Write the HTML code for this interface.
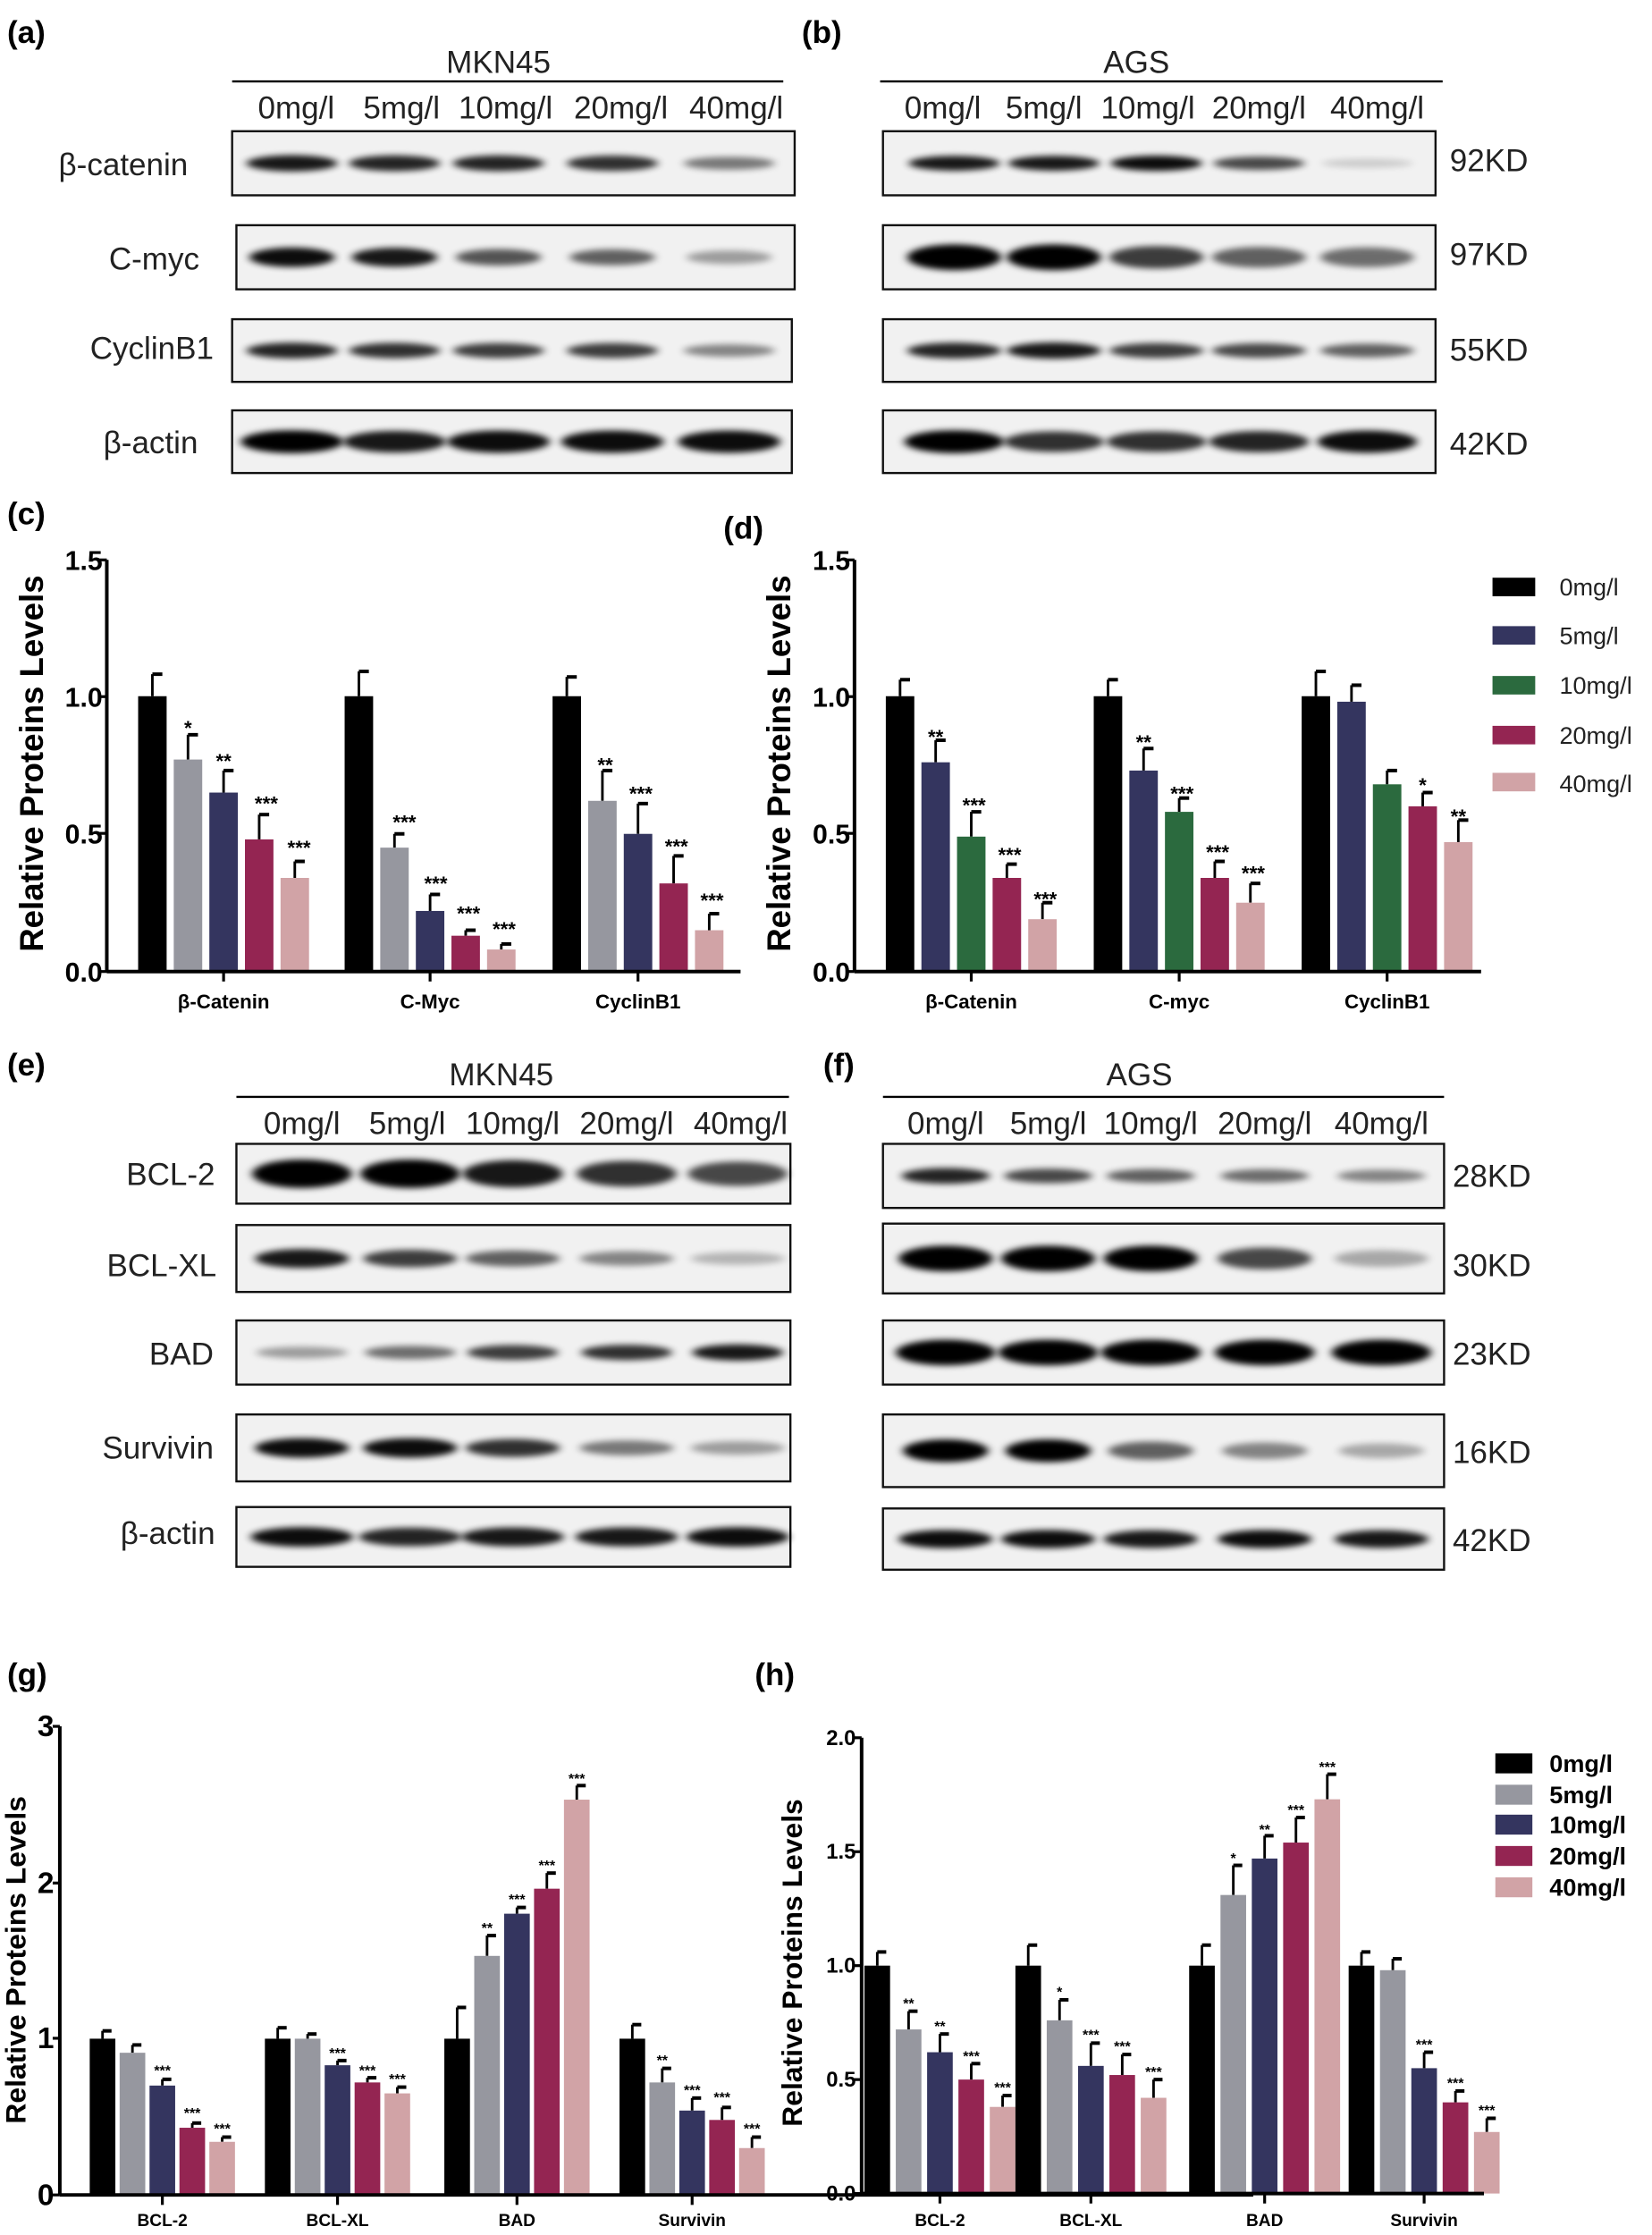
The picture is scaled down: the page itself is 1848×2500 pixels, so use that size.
<!DOCTYPE html>
<html><head><meta charset="utf-8"><style>
html,body{margin:0;padding:0;background:#fff}
svg{display:block}
text{font-family:"Liberation Sans",Arial,sans-serif}
.bl{font-size:22px;fill:#222}
.pl{font-size:22px;font-weight:bold;fill:#000}
.ax{font-size:19px;font-weight:bold}
.yl{font-size:23px;font-weight:bold}
.xl{font-size:14px;font-weight:bold}
.st{font-size:14px;font-weight:bold;text-anchor:middle}
.ss{font-size:10px;font-weight:bold;text-anchor:middle}
</style></head><body>
<svg id="s" width="1848" height="2500" viewBox="0 0 1160 1569" xmlns="http://www.w3.org/2000/svg">
<defs><filter id="bf" x="-20%" y="-100%" width="140%" height="300%"><feGaussianBlur stdDeviation="3 2.2"/></filter></defs>
<g id="blots"></g>
<text class="pl" x="5" y="30">(a)</text><text class="pl" x="563" y="30">(b)</text>
<text class="pl" x="5" y="368">(c)</text><text class="pl" x="508" y="378">(d)</text>
<text class="pl" x="5" y="755">(e)</text><text class="pl" x="578" y="755">(f)</text>
<text class="pl" x="5" y="1183">(g)</text><text class="pl" x="530" y="1183">(h)</text>
<text class="bl" x="350" y="51" text-anchor="middle">MKN45</text>
<line x1="163" y1="57" x2="550" y2="57" stroke="#000" stroke-width="1.5"/>
<g class="bl" text-anchor="middle"><text x="208" y="83">0mg/l</text><text x="282" y="83">5mg/l</text><text x="355" y="83">10mg/l</text><text x="436" y="83">20mg/l</text><text x="517" y="83">40mg/l</text></g>
<g class="bl" text-anchor="end"><text x="132" y="123">β-catenin</text><text x="140" y="189">C-myc</text><text x="150" y="252">CyclinB1</text><text x="139" y="318">β-actin</text></g>
<text class="bl" x="798" y="51" text-anchor="middle">AGS</text>
<line x1="618" y1="57" x2="1013" y2="57" stroke="#000" stroke-width="1.5"/>
<g class="bl" text-anchor="middle"><text x="662" y="83">0mg/l</text><text x="733" y="83">5mg/l</text><text x="806" y="83">10mg/l</text><text x="884" y="83">20mg/l</text><text x="967" y="83">40mg/l</text></g>
<g class="bl"><text x="1018" y="120">92KD</text><text x="1018" y="186">97KD</text><text x="1018" y="253">55KD</text><text x="1018" y="319">42KD</text></g>
<text class="bl" x="352" y="762" text-anchor="middle">MKN45</text>
<line x1="166" y1="770" x2="554" y2="770" stroke="#000" stroke-width="1.5"/>
<g class="bl" text-anchor="middle"><text x="212" y="796">0mg/l</text><text x="286" y="796">5mg/l</text><text x="360" y="796">10mg/l</text><text x="440" y="796">20mg/l</text><text x="520" y="796">40mg/l</text></g>
<g class="bl" text-anchor="end"><text x="151" y="832">BCL-2</text><text x="152" y="896">BCL-XL</text><text x="150" y="958">BAD</text><text x="150" y="1024">Survivin</text><text x="151" y="1084">β-actin</text></g>
<text class="bl" x="800" y="762" text-anchor="middle">AGS</text>
<line x1="620" y1="770" x2="1014" y2="770" stroke="#000" stroke-width="1.5"/>
<g class="bl" text-anchor="middle"><text x="664" y="796">0mg/l</text><text x="736" y="796">5mg/l</text><text x="808" y="796">10mg/l</text><text x="888" y="796">20mg/l</text><text x="970" y="796">40mg/l</text></g>
<g class="bl"><text x="1020" y="833">28KD</text><text x="1020" y="896">30KD</text><text x="1020" y="958">23KD</text><text x="1020" y="1027">16KD</text><text x="1020" y="1089">42KD</text></g>
<g id="charts"></g>
<g class="ax" text-anchor="end"><text x="72" y="400">1.5</text><text x="72" y="496">1.0</text><text x="72" y="592">0.5</text><text x="72" y="689">0.0</text></g>
<text class="yl" transform="translate(30,536) rotate(-90)" text-anchor="middle">Relative Proteins Levels</text>
<g class="xl" text-anchor="middle"><text x="157" y="708">β-Catenin</text><text x="302" y="708">C-Myc</text><text x="448" y="708">CyclinB1</text></g>
<g class="st"><text x="132" y="516">*</text><text x="157" y="539">**</text><text x="187" y="569">***</text><text x="210" y="600">***</text>
<text x="284" y="582">***</text><text x="306" y="625">***</text><text x="329" y="646">***</text><text x="354" y="657">***</text>
<text x="425" y="542">**</text><text x="450" y="562">***</text><text x="475" y="599">***</text><text x="500" y="637">***</text></g>
<g class="ax" text-anchor="end"><text x="597" y="400">1.5</text><text x="597" y="496">1.0</text><text x="597" y="592">0.5</text><text x="597" y="689">0.0</text></g>
<text class="yl" transform="translate(555,536) rotate(-90)" text-anchor="middle">Relative Proteins Levels</text>
<g class="xl" text-anchor="middle"><text x="682" y="708">β-Catenin</text><text x="828" y="708">C-myc</text><text x="974" y="708">CyclinB1</text></g>
<g class="st"><text x="657" y="522">**</text><text x="684" y="570">***</text><text x="709" y="605">***</text><text x="734" y="636">***</text>
<text x="803" y="526">**</text><text x="830" y="562">***</text><text x="855" y="603">***</text><text x="880" y="618">***</text>
<text x="999" y="556">*</text><text x="1024" y="578">**</text></g>
<g font-size="17" fill="#222"><text x="1095" y="418">0mg/l</text><text x="1095" y="452">5mg/l</text><text x="1095" y="487">10mg/l</text><text x="1095" y="522">20mg/l</text><text x="1095" y="556">40mg/l</text></g>
<g class="ax" text-anchor="end" style="font-size:21px"><text x="38" y="1219">3</text><text x="38" y="1329">2</text><text x="38" y="1438">1</text><text x="38" y="1548">0</text></g>
<text class="yl" transform="translate(18,1376) rotate(-90)" text-anchor="middle" style="font-size:20px">Relative Proteins Levels</text>
<g class="xl" text-anchor="middle" style="font-size:12px"><text x="114" y="1563">BCL-2</text><text x="237" y="1563">BCL-XL</text><text x="363" y="1563">BAD</text><text x="486" y="1563">Survivin</text></g>
<g class="ss"><text x="114" y="1457">***</text><text x="135" y="1487">***</text><text x="156" y="1498">***</text>
<text x="237" y="1445">***</text><text x="258" y="1457">***</text><text x="279" y="1463">***</text>
<text x="342" y="1357">**</text><text x="363" y="1337">***</text><text x="384" y="1313">***</text><text x="405" y="1252">***</text>
<text x="465" y="1450">**</text><text x="486" y="1471">***</text><text x="507" y="1476">***</text><text x="528" y="1498">***</text></g>
<g class="ax" text-anchor="end" style="font-size:15px"><text x="601" y="1225">2.0</text><text x="601" y="1305">1.5</text><text x="601" y="1385">1.0</text><text x="601" y="1465">0.5</text><text x="601" y="1545">0.0</text></g>
<text class="yl" transform="translate(563,1378) rotate(-90)" text-anchor="middle" style="font-size:20px">Relative Proteins Levels</text>
<g class="xl" text-anchor="middle" style="font-size:12px"><text x="660" y="1563">BCL-2</text><text x="766" y="1563">BCL-XL</text><text x="888" y="1563">BAD</text><text x="1000" y="1563">Survivin</text></g>
<g class="ss"><text x="638" y="1410">**</text><text x="660" y="1426">**</text><text x="682" y="1447">***</text><text x="704" y="1469">***</text>
<text x="744" y="1402">*</text><text x="766" y="1432">***</text><text x="788" y="1440">***</text><text x="810" y="1458">***</text>
<text x="866" y="1308">*</text><text x="888" y="1288">**</text><text x="910" y="1274">***</text><text x="932" y="1244">***</text>
<text x="1000" y="1439">***</text><text x="1022" y="1466">***</text><text x="1044" y="1485">***</text></g>
<g font-size="17" font-weight="bold"><text x="1088" y="1244">0mg/l</text><text x="1088" y="1266">5mg/l</text><text x="1088" y="1287">10mg/l</text><text x="1088" y="1309">20mg/l</text><text x="1088" y="1331">40mg/l</text></g>
</svg>
<script>
var NS="http://www.w3.org/2000/svg";
function el(p,t,a){var e=document.createElementNS(NS,t);for(var k in a)e.setAttribute(k,a[k]);p.appendChild(e);return e;}
var B=document.getElementById('blots');
function blot(x1,x2,y1,y2,centers,ints,w,h){
 el(B,'rect',{x:x1,y:y1,width:x2-x1,height:y2-y1,fill:'#f1f1f1',stroke:'#111','stroke-width':1.5});
 var cy=(y1+y2)/2;
 for(var i=0;i<centers.length;i++){var v=ints[i];if(v<=0)continue;
  el(B,'ellipse',{cx:centers[i],cy:cy,rx:w/2,ry:h*(0.5+0.5*v)/2,fill:'#000',opacity:Math.min(1,v),filter:'url(#bf)'});}
}
var ca=[205,277,350,430,512], cb=[670,740,812,884,960];
blot(163,558,92,137,ca,[0.9,0.85,0.85,0.8,0.5],64,12);
blot(166,558,158,203,ca,[0.95,0.9,0.65,0.6,0.35],60,14);
blot(163,556,224,268,ca,[0.85,0.8,0.75,0.75,0.45],64,12);
blot(163,556,288,332,ca,[1,0.9,0.95,0.95,0.95],72,16);
blot(620,1008,92,137,cb,[0.9,0.9,0.95,0.7,0.15],64,11);
blot(620,1008,158,203,cb,[1,1,0.75,0.6,0.55],66,18);
blot(620,1008,224,268,cb,[0.85,0.9,0.75,0.7,0.6],66,12);
blot(620,1008,288,332,cb,[1,0.8,0.8,0.85,0.95],70,16);
var ce=[212,288,360,440,518], cf=[664,736,808,888,970];
blot(166,555,803,845,ce,[1,1,0.9,0.8,0.7],70,20);
blot(166,555,860,907,ce,[0.9,0.75,0.6,0.45,0.25],66,14);
blot(166,555,927,972,ce,[0.35,0.55,0.75,0.8,0.9],64,12);
blot(166,555,993,1040,ce,[0.95,0.95,0.8,0.5,0.35],66,14);
blot(166,555,1058,1100,ce,[0.95,0.85,0.9,0.9,0.95],72,14);
blot(620,1014,803,848,cf,[0.85,0.7,0.6,0.55,0.45],62,12);
blot(620,1014,859,908,cf,[1,1,1,0.7,0.3],66,18);
blot(620,1014,927,972,cf,[1,1,1,1,1],70,18);
blot(620,1014,993,1044,cf,[1,1,0.6,0.45,0.3],60,16);
blot(620,1014,1059,1102,cf,[0.95,0.95,0.9,0.95,0.9],66,13);
var C=document.getElementById('charts');
var K='#000',G='#96979f',N='#34355f',R='#942552',P='#d1a3a6',GR='#2b6a3e';
function chart(o){
 var g=C;
 for(var gi=0;gi<o.groups.length;gi++){var gr=o.groups[gi];
  for(var i=0;i<5;i++){var cx=gr.c+(i-2)*o.step,v=gr.v[i],e=gr.e[i];
   var yt=o.y0-v*o.s, ye=o.y0-(v+e)*o.s;
   el(g,'line',{x1:cx,y1:yt,x2:cx,y2:ye,stroke:'#000','stroke-width':1.8});
   el(g,'line',{x1:cx,y1:ye,x2:cx+o.bw*0.35,y2:ye,stroke:'#000','stroke-width':2.5});
   el(g,'rect',{x:cx-o.bw/2,y:yt,width:o.bw,height:v*o.s,fill:o.col[i]});
  }
  el(g,'line',{x1:gr.c,y1:o.y0,x2:gr.c,y2:o.y0+7,stroke:'#000','stroke-width':2});
 }
 el(g,'line',{x1:o.ax,y1:o.y0,x2:o.xe,y2:o.y0,stroke:'#000','stroke-width':2.5});
 el(g,'line',{x1:o.ax,y1:o.y0,x2:o.ax,y2:o.top,stroke:'#000','stroke-width':2.5});
 o.ticks.forEach(function(t){el(g,'line',{x1:o.ax-5,y1:t,x2:o.ax,y2:t,stroke:'#000','stroke-width':2});});
}
chart({ax:75,xe:520,y0:682,top:393,s:193.3,bw:20,step:25,col:[K,G,N,R,P],ticks:[393,489,585,682],groups:[
 {c:157,v:[1,.77,.65,.48,.34],e:[.08,.09,.08,.09,.06]},
 {c:302,v:[1,.45,.22,.13,.08],e:[.09,.05,.06,.02,.02]},
 {c:448,v:[1,.62,.5,.32,.15],e:[.07,.11,.11,.1,.06]}]});
chart({ax:600,xe:1040,y0:682,top:393,s:193.3,bw:20,step:25,col:[K,N,GR,R,P],ticks:[393,489,585,682],groups:[
 {c:682,v:[1,.76,.49,.34,.19],e:[.06,.08,.09,.05,.06]},
 {c:828,v:[1,.73,.58,.34,.25],e:[.06,.08,.05,.06,.07]},
 {c:974,v:[1,.98,.68,.6,.47],e:[.09,.06,.05,.05,.08]}]});
chart({ax:42,xe:880,y0:1541,top:1212,s:109.7,bw:18,step:21,col:[K,G,N,R,P],ticks:[1212,1322,1431,1541],groups:[
 {c:114,v:[1,.91,.7,.43,.34],e:[.05,.05,.04,.03,.03]},
 {c:237,v:[1,1,.83,.72,.65],e:[.07,.03,.03,.03,.04]},
 {c:363,v:[1,1.53,1.8,1.96,2.53],e:[.2,.13,.04,.1,.09]},
 {c:486,v:[1,.72,.54,.48,.3],e:[.09,.09,.08,.08,.07]}]});
chart({ax:605,xe:1042,y0:1540,top:1220,s:160,bw:18,step:22,col:[K,G,N,R,P],ticks:[1220,1300,1380,1460,1540],groups:[
 {c:660,v:[1,.72,.62,.5,.38],e:[.06,.08,.08,.07,.05]},
 {c:766,v:[1,.76,.56,.52,.42],e:[.09,.09,.1,.09,.08]},
 {c:888,v:[1,1.31,1.47,1.54,1.73],e:[.09,.13,.1,.11,.11]},
 {c:1000,v:[1,.98,.55,.4,.27],e:[.06,.05,.07,.05,.06]}]});
function leg(x,ys,cols,w,h){ys.forEach(function(y,i){el(C,'rect',{x:x,y:y-h/2,width:w,height:h,fill:cols[i]});});}
leg(1048,[412,446,481,516,549],[K,N,GR,R,P],30,13);
leg(1050,[1238,1260,1281,1303,1325],[K,G,N,R,P],26,14);
</script>
</body></html>
